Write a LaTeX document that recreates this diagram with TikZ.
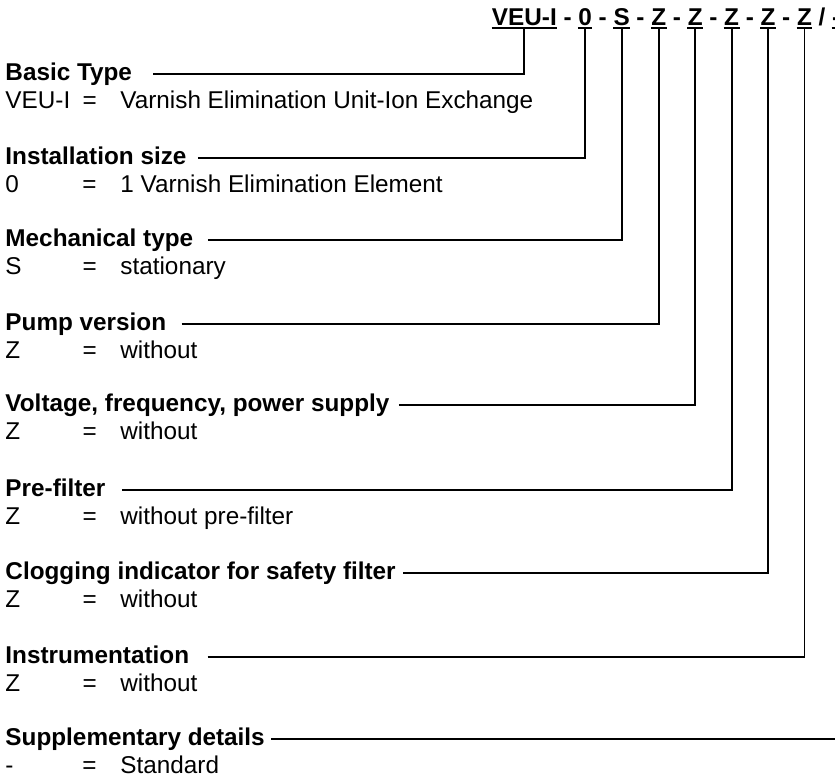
\documentclass[tikz,border=0pt]{standalone}
\usepackage{fontspec}
\setmainfont{Liberation Sans}
\usetikzlibrary{matrix}
\newcommand\codeline[2]{\makebox[31.7pt][l]{#1}\makebox[15.6pt][l]{=}#2}

\begin{document}
\begin{tikzpicture}[x=0.4115pt,y=-0.4115pt,
	title/.style={font=\bfseries,anchor=base west,inner sep=0pt},
	desc/.style={anchor=base west,inner sep=0pt},
	lead/.style={line width=0.8pt}]
	\useasboundingbox (0,0) rectangle (835,780);
	\clip (0,0) rectangle (835,780);
	\matrix (m) [matrix of nodes,column sep=0pt,anchor=south west,inner sep=0pt,
		nodes={font=\bfseries,inner sep=0pt,text depth=0pt}] at (491.5,26)
	{
		VEU-I & \mbox{\ -\ } & 0 & \mbox{\ -\ } & S & \mbox{\ -\ } & Z & \mbox{\ -\ } & Z & \mbox{\ -\ } & Z & \mbox{\ -\ } & Z & \mbox{\ -\ } & Z & \mbox{\ /\ } & - \\
	};
	\foreach \c in {1,3,...,17}
		\draw[lead] ([yshift=-1pt]m-1-\c.base west) -- ([yshift=-1pt]m-1-\c.base east);

	\node[title] (basic) at (5,80.5) {Basic Type};
	\node[desc] (basic-v) at (5,108.5) {\codeline{VEU-I}{Varnish Elimination Unit-Ion Exchange}};
	\node[title] (size) at (5,164.5) {Installation size};
	\node[desc] (size-v) at (5,192.5) {\codeline{0}{1 Varnish Elimination Element}};
	\node[title] (mech) at (5,246.5) {Mechanical type};
	\node[desc] (mech-v) at (5,274.5) {\codeline{S}{stationary}};
	\node[title] (pump) at (5,330.5) {Pump version};
	\node[desc] (pump-v) at (5,358.5) {\codeline{Z}{without}};
	\node[title] (volt) at (5,411.5) {Voltage, frequency, power supply};
	\node[desc] (volt-v) at (5,439.5) {\codeline{Z}{without}};
	\node[title] (pre) at (5,496.5) {Pre-filter};
	\node[desc] (pre-v) at (5,524.5) {\codeline{Z}{without pre-filter}};
	\node[title] (clog) at (5,579.5) {Clogging indicator for safety filter};
	\node[desc] (clog-v) at (5,607.5) {\codeline{Z}{without}};
	\node[title] (instr) at (5,663.5) {Instrumentation};
	\node[desc] (instr-v) at (5,691.5) {\codeline{Z}{without}};
	\node[title] (supp) at (5,745.5) {Supplementary details};
	\node[desc] (supp-v) at (5,773.5) {\codeline{-}{Standard}};

	\draw[lead]
	([xshift=8.6pt,yshift=.5ex]basic.base east) -| ([yshift=-1pt]m-1-1.base)
	([xshift=4.5pt,yshift=.5ex]size.base east)  -| ([yshift=-1pt]m-1-3.base)
	([xshift=5.8pt,yshift=.5ex]mech.base east)  -| ([yshift=-1pt]m-1-5.base)
	([xshift=6.2pt,yshift=.5ex]pump.base east)  -| ([yshift=-1pt]m-1-7.base)
	([xshift=3.7pt,yshift=.5ex]volt.base east)  -| ([yshift=-1pt]m-1-9.base)
	([xshift=6.6pt,yshift=.5ex]pre.base east)   -| ([yshift=-1pt]m-1-11.base)
	([xshift=2.9pt,yshift=.5ex]clog.base east)  -| ([yshift=-1pt]m-1-13.base)
	([xshift=7.4pt,yshift=.5ex]instr.base east) -| ([yshift=-1pt]m-1-15.base)
	([xshift=2.5pt,yshift=.5ex]supp.base east)  -| ([yshift=-1pt]m-1-17.base);
\end{tikzpicture}
\end{document}
